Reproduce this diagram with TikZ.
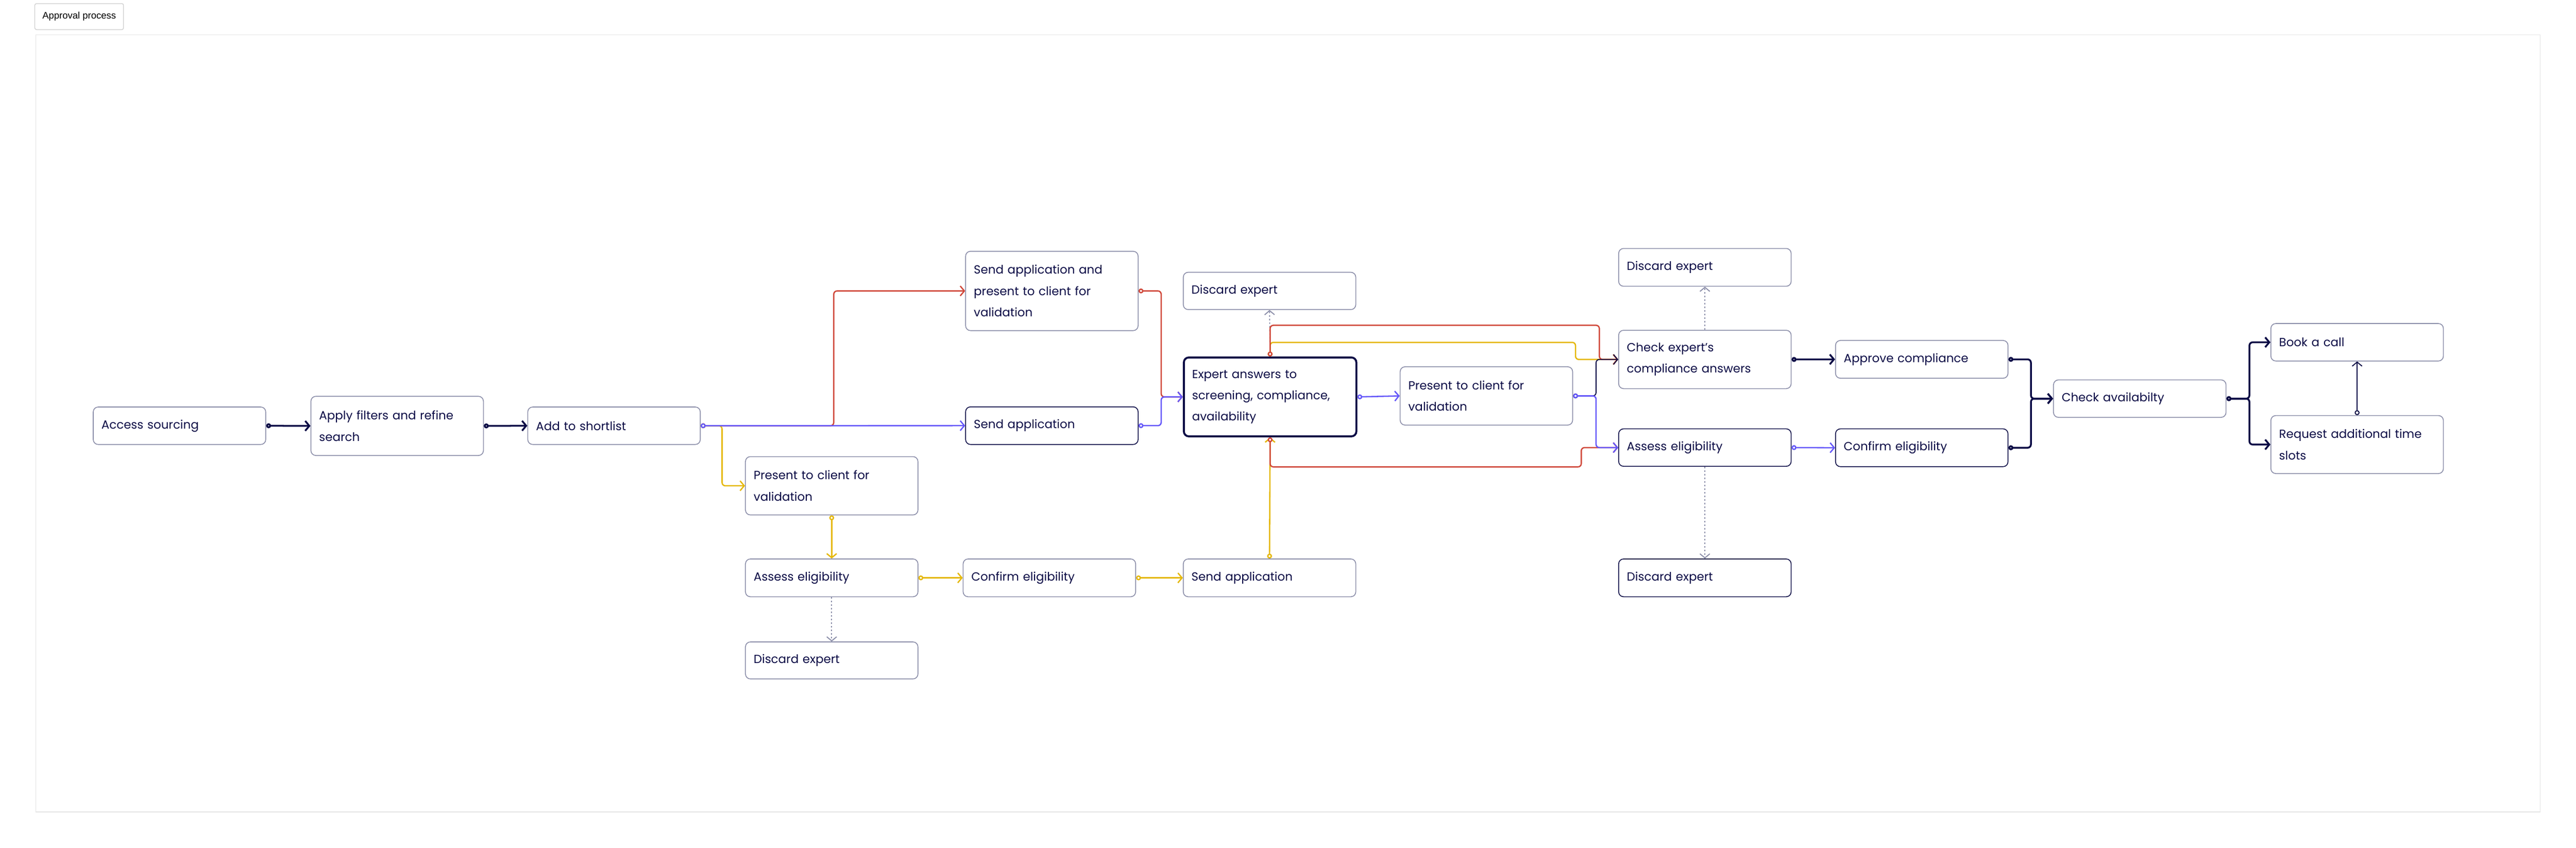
\documentclass[tikz,border=0pt]{standalone}
\usepackage{fontspec}
\setmainfont{Poppins}
\newfontfamily\titlefont{Liberation Sans}
\usetikzlibrary{arrows.meta,calc}
\definecolor{navy}{HTML}{0B0B45}
\definecolor{cblue}{HTML}{6457F9}
\definecolor{cred}{HTML}{D0483A}
\definecolor{cyel}{HTML}{E5B80B}
\definecolor{cgray}{HTML}{8A8DA8}
\begin{document}
\begin{tikzpicture}[x=1pt,y=-1pt,
  box/.style={draw=cgray,line width=0.5pt,rounded corners=3pt,anchor=north west,minimum width=105pt,
    text width=95pt,inner xsep=5pt,inner ysep=0pt,align=left,text=navy,
    font=\fontsize{7.2}{13}\selectfont},
  dark/.style={draw=navy},
  conn/.style={rounded corners=2pt,{Circle[open,fill=white,length=3pt,width=3pt]}-{Straight Barb[length=2.5pt,width=6pt]}},
  nv/.style={conn,draw=navy,line width=1.1pt},
  nvt/.style={conn,draw=navy,line width=0.6pt},
  bl/.style={conn,draw=cblue,line width=0.8pt},
  rd/.style={conn,draw=cred,line width=0.8pt},
  yl/.style={conn,draw=cyel,line width=0.8pt},
  dot/.style={draw=cgray,line width=0.6pt,dash pattern=on 1pt off 1.2pt,-{Straight Barb[length=2.5pt,width=6pt]}}]
\useasboundingbox (0,0) rectangle (1568,516);
\fill[white] (0,0) rectangle (1568,516);
\node[draw=black!20,rounded corners=1pt,anchor=north west,minimum width=54pt,minimum height=15.8pt,inner sep=0pt,
  font=\titlefont\fontsize{5.8}{7}\selectfont] (title) at (21,2) {Approval process};
\node[draw=black!10,line width=0.4pt,anchor=north west,minimum width=1524.5pt,minimum height=473pt,inner sep=0pt] (frame) at (21.5,21) {};

\node[box,minimum height=22.8pt] (acc) at (56.5,247.5) {Access sourcing};
\node[box,minimum height=36pt] (app) at (189,241) {Apply filters and refine\\search};
\node[box,minimum height=22.8pt] (add) at (321,247.5) {Add to shortlist};
\node[box,minimum height=48.3pt] (sap) at (587.5,152.7) {Send application and\\present to client for\\validation};
\node[box,dark,minimum height=22.9pt] (sa1) at (587.5,247.4) {Send application};
\node[box,minimum height=22.7pt] (dx1) at (720,165.5) {Discard expert};
\node[box,draw=navy,line width=1.2pt,minimum height=48pt] (exp) at (720,217) {Expert answers to\\screening, compliance,\\availability};
\node[box,minimum height=35.5pt] (pcl) at (453.5,277.7) {Present to client for\\validation};
\node[box,minimum height=23pt] (ael) at (453.5,340) {Assess eligibility};
\node[box,minimum height=23pt] (cel) at (586,340) {Confirm eligibility};
\node[box,minimum height=23pt] (sa2) at (720,340) {Send application};
\node[box,minimum height=22.5pt] (dxl) at (453.5,390.5) {Discard expert};
\node[box,minimum height=35.5pt] (pcr) at (852,223) {Present to client for\\validation};
\node[box,minimum height=23pt] (dxt) at (985,151) {Discard expert};
\node[box,minimum height=35.5pt] (chk) at (985,200.8) {Check expert's\\compliance answers};
\node[box,dark,minimum height=22.8pt] (aer) at (985,260.8) {Assess eligibility};
\node[box,dark,minimum height=23pt] (dxb) at (985,340) {Discard expert};
\node[box,minimum height=23pt] (apc) at (1117,207) {Approve compliance};
\node[box,dark,minimum height=23pt] (cer) at (1117,260.8) {Confirm eligibility};
\node[box,minimum height=22.8pt] (cav) at (1249.7,231) {Check availabilty};
\node[box,minimum height=22.8pt] (bk) at (1382,196.7) {Book a call};
\node[box,minimum height=35.3pt] (req) at (1382,252.7) {Request additional time\\slots};

\draw[nv] (acc.east) -- (app.west);
\draw[nv] (app.east) -- (add.west);
\draw[rd] (add.east) -- ++(81,0) |- (sap.west);
\draw[yl] (add.east) -- ++(13,0) |- (pcl.west);
\draw[bl] (add.east) -- (sa1.west);
\draw[rd] (sap.east) -- ++(13.8,0) |- (exp.west);
\draw[bl] (sa1.east) -- ++(13.8,0) |- (exp.west);
\draw[yl] (pcl.south) -- (ael.north);
\draw[yl] (ael.east) -- (cel.west);
\draw[yl] (cel.east) -- (sa2.west);
\draw[yl] (sa2.north) -- (exp.south);
\draw[dot] (ael.south) -- (dxl.north);
\draw[dot] (exp.north) -- (dx1.south);
\draw[yl] (exp.north) -- ++(0,-8.6) -| ($(chk.west)+(-26,0)$) -- (chk.west);
\draw[rd] (exp.north) -- ++(0,-19) -| ($(chk.west)+(-11.5,0)$) -- (chk.west);
\draw[rd] (exp.south) -- ++(0,18) -| ($(aer.west)+(-22.5,0)$) -- (aer.west);
\draw[bl] (exp.east) -- (pcr.west);
\draw[nvt] (pcr.east) -- ++(14,0) |- (chk.west);
\draw[bl] (pcr.east) -- ++(14,0) |- (aer.west);
\draw[dot] (chk.north) -- (dxt.south);
\draw[dot] (aer.south) -- (dxb.north);
\draw[nv] (chk.east) -- (apc.west);
\draw[bl] (aer.east) -- (cer.west);
\draw[nv] (apc.east) -- ++(13.7,0) |- (cav.west);
\draw[nv] (cer.east) -- ++(13.7,0) |- (cav.west);
\draw[nv] (cav.east) -- ++(14,0) |- (bk.west);
\draw[nv] (cav.east) -- ++(14,0) |- (req.west);
\draw[nvt] (req.north) -- (bk.south);
\end{tikzpicture}
\end{document}
